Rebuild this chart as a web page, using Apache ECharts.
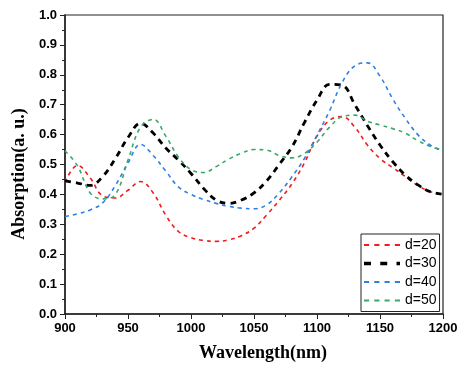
<!DOCTYPE html>
<html><head><meta charset="utf-8">
<script src="https://cdn.jsdelivr.net/npm/echarts@6/dist/echarts.min.js"></script>
<style>html,body{margin:0;padding:0;background:#fff}#c{width:462px;height:367px}</style>
</head><body><div id="c"></div>
<script>
const wavelengths = [900,910,920,930,940,950,960,970,980,990,1000,1010,1020,1030,1040,1050,1060,1070,1080,1090,1100,1110,1120,1130,1140,1150,1160,1170,1180,1190,1200];
const d20 = [0.44,0.497,0.455,0.395,0.388,0.414,0.443,0.405,0.33,0.276,0.255,0.246,0.243,0.248,0.262,0.287,0.331,0.38,0.435,0.505,0.595,0.648,0.66,0.625,0.565,0.52,0.49,0.46,0.43,0.409,0.40];
const d30 = [0.445,0.438,0.43,0.46,0.52,0.59,0.638,0.605,0.555,0.515,0.47,0.42,0.381,0.37,0.381,0.405,0.445,0.5,0.558,0.64,0.715,0.768,0.765,0.70,0.63,0.565,0.51,0.465,0.432,0.409,0.40];
const d40 = [0.326,0.335,0.348,0.372,0.43,0.505,0.567,0.53,0.478,0.425,0.40,0.383,0.37,0.36,0.354,0.352,0.365,0.405,0.458,0.52,0.598,0.68,0.775,0.83,0.84,0.795,0.72,0.655,0.60,0.565,0.546];
const d50 = [0.546,0.495,0.405,0.385,0.40,0.515,0.625,0.651,0.595,0.525,0.483,0.473,0.493,0.518,0.538,0.55,0.548,0.53,0.522,0.537,0.575,0.625,0.66,0.665,0.645,0.632,0.62,0.605,0.58,0.56,0.546];
const seriesNames = ['d=20','d=30','d=40','d=50'];
const colors = ['#f01c1c','#000000','#2f7fe6','#3aa86a'];
const widths = [1.6,2.8,1.6,1.6];
const dashes = [[4,4],[6,5],[4,4],[4,4]];
const all = [d20,d30,d40,d50];
const dashIcon = 'path://M0,0h5v2h-5z M10,0h5v2h-5z M20,0h5v2h-5z M30,0h5v2h-5z';
const dashIconBold = 'path://M0,0h6v3h-6z M14,0h6v3h-6z M28,0h3v3h-3z';

const chart = echarts.init(document.getElementById('c'));
const labelStyle = {color:'#000',fontFamily:'Liberation Sans, Arial, sans-serif',fontWeight:'bold',fontSize:13};
const nameFont = 'Liberation Serif, Times New Roman, serif';
chart.setOption({
  animation:false,
  grid:{left:65,right:19,top:15,bottom:50,show:true,borderColor:'#222',borderWidth:1.2},
  xAxis:{type:'value',min:900,max:1200,interval:50,
    name:'Wavelength(nm)',nameLocation:'middle',nameGap:30,
    nameTextStyle:{color:'#000',fontFamily:nameFont,fontWeight:'bold',fontSize:18,padding:[0,0,0,18]},
    axisLine:{lineStyle:{color:'#222',width:1.5}},
    axisTick:{length:5,lineStyle:{color:'#222'}},
    minorTick:{show:true,splitNumber:2,length:3,lineStyle:{color:'#222'}},
    splitLine:{show:false},
    axisLabel:Object.assign({margin:8,formatter:v=>String(v)},labelStyle)},
  yAxis:{type:'value',min:0,max:1,interval:0.1,
    name:'Absorption(a. u.)',nameLocation:'middle',nameGap:33,
    nameTextStyle:{color:'#000',fontFamily:nameFont,fontWeight:'bold',fontSize:18,padding:[0,19,0,0]},
    axisLine:{show:true,lineStyle:{color:'#222',width:1.5}},
    axisTick:{show:true,length:5,lineStyle:{color:'#222'}},
    minorTick:{show:true,splitNumber:2,length:3,lineStyle:{color:'#222'}},
    splitLine:{show:false},
    axisLabel:Object.assign({margin:8,formatter:v=>v.toFixed(1)},labelStyle)},
  legend:{orient:'vertical',left:361,top:234,itemWidth:36,itemHeight:14,itemGap:4.5,
    borderColor:'#222',borderWidth:1,padding:[4,3,4,3],backgroundColor:'#fff',
    textStyle:{fontFamily:'Liberation Sans, Arial, sans-serif',fontSize:14,color:'#000'},
    data:seriesNames.map((n,i)=>({name:n,icon:i===1?dashIconBold:dashIcon}))},
  series:all.map((vals,i)=>({
    name:seriesNames[i],type:'line',smooth:0.4,symbol:'none',
    data:wavelengths.map((w,j)=>[w,vals[j]]),
    lineStyle:{color:colors[i],width:widths[i],type:dashes[i]},
    itemStyle:{color:colors[i]}
  }))
});
</script></body></html>
